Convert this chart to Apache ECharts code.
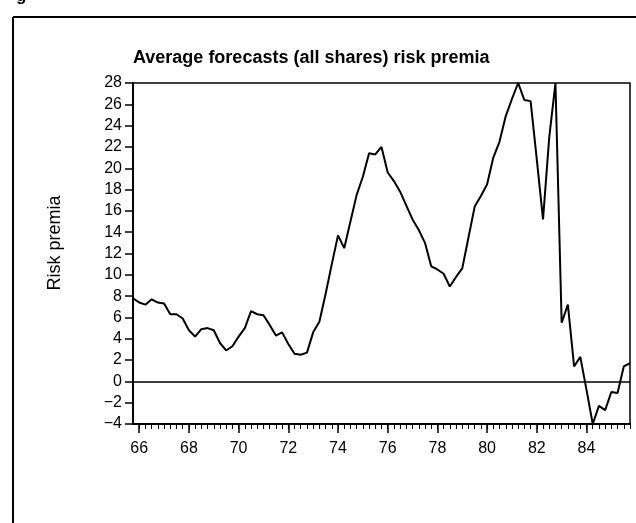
<!DOCTYPE html>
<html>
<head>
<meta charset="utf-8">
<script src="https://cdn.jsdelivr.net/npm/echarts@6/dist/echarts.min.js"></script>
<style>html,body{margin:0;padding:0;background:#fff;}#c{width:636px;height:523px;}</style>
</head>
<body>
<div id="c"></div>
<script>
// Quarterly periods, 1965 Q4 .. 1985 Q4 (decimal years, two-digit)
var quarters = [
  65.75,
  66.00,66.25,66.50,66.75, 67.00,67.25,67.50,67.75, 68.00,68.25,68.50,68.75,
  69.00,69.25,69.50,69.75, 70.00,70.25,70.50,70.75, 71.00,71.25,71.50,71.75,
  72.00,72.25,72.50,72.75, 73.00,73.25,73.50,73.75, 74.00,74.25,74.50,74.75,
  75.00,75.25,75.50,75.75, 76.00,76.25,76.50,76.75, 77.00,77.25,77.50,77.75,
  78.00,78.25,78.50,78.75, 79.00,79.25,79.50,79.75, 80.00,80.25,80.50,80.75,
  81.00,81.25,81.50,81.75, 82.00,82.25,82.50,82.75, 83.00,83.25,83.50,83.75,
  84.00,84.25,84.50,84.75, 85.00,85.25,85.50,85.75
];
// Average forecasts (all shares) risk premia
var riskPremia = [
  7.8,
  7.4,7.2,7.7,7.4, 7.3,6.3,6.3,5.9, 4.8,4.2,4.9,5.0,
  4.8,3.6,2.9,3.3, 4.2,5.0,6.6,6.3, 6.2,5.3,4.3,4.6,
  3.5,2.6,2.5,2.7, 4.6,5.6,8.2,11.0, 13.7,12.5,15.0,17.5,
  19.2,21.4,21.3,22.0, 19.6,18.8,17.8,16.5, 15.2,14.2,13.0,10.8,
  10.5,10.1,8.9,9.8, 10.6,13.5,16.4,17.4, 18.5,21.0,22.5,24.9,
  26.5,28,26.4,26.3, 20.8,15.2,22.9,28, 5.5,7.2,1.4,2.3,
  -0.8,-4,-2.3,-2.7, -1.0,-1.1,1.4,1.7
];
var xLabels = [66,68,70,72,74,76,78,80,82,84];
var minorTickValues = [];
for (var q = 66; q <= 85.75; q += 0.25) minorTickValues.push(q);

var data = quarters.map(function(t,i){ return [t, riskPremia[i]]; });

var FONT = 'Liberation Sans';
var chart = echarts.init(document.getElementById('c'), null, {renderer:'canvas'});
chart.setOption({
  animation:false,
  backgroundColor:'#fff',
  textStyle:{fontFamily:FONT,color:'#000'},
  title:{
    text:'Average forecasts (all shares) risk premia',
    left:128, top:44,
    textStyle:{fontFamily:FONT,fontSize:18,fontWeight:'bold',color:'#000'}
  },
  grid:{left:133,right:6,top:83,bottom:99,show:true,borderColor:'#000',borderWidth:1.5,backgroundColor:'transparent'},
  xAxis:[{
    type:'value', min:65.75, max:85.75,
    axisLine:{show:true,onZero:false,lineStyle:{color:'#000',width:2}},
    axisTick:{show:true,length:9,customValues:xLabels,lineStyle:{color:'#000',width:1.5}},
    axisLabel:{show:true,customValues:xLabels,color:'#000',fontSize:16,fontFamily:FONT,margin:17,
      formatter:function(v){return String(Math.round(v));}},
    splitLine:{show:false}
  },{
    type:'value', min:65.75, max:85.75, position:'bottom',
    axisLine:{show:false,onZero:false},
    axisTick:{show:true,length:5,customValues:minorTickValues,lineStyle:{color:'#000',width:1}},
    axisLabel:{show:false},
    splitLine:{show:false}
  }],
  yAxis:{
    type:'value', min:-4, max:28, interval:2,
    axisLine:{show:true,onZero:false,lineStyle:{color:'#000',width:2}},
    axisTick:{show:true,length:8,lineStyle:{color:'#000',width:1.5}},
    axisLabel:{color:'#000',fontSize:16,fontFamily:FONT,margin:11,
      formatter:function(v){return String(v).replace('-','\u2212');}},
    splitLine:{show:false}
  },
  series:[{
    type:'line', xAxisIndex:0, data:data, showSymbol:false, symbol:'none',
    lineStyle:{color:'#000',width:2}, clip:true,
    markLine:{silent:true,symbol:'none',label:{show:false},
      lineStyle:{color:'#000',width:1.5,type:'solid'},
      data:[{yAxis:0}]}
  }],
  graphic:[
    {type:'line',shape:{x1:13,y1:17,x2:13,y2:523},style:{stroke:'#000',lineWidth:2}},
    {type:'line',shape:{x1:13,y1:17,x2:636,y2:17},style:{stroke:'#000',lineWidth:2}},
    {type:'text',x:16,y:-12,style:{text:'g',font:'bold 17px "Liberation Sans"',fill:'#000'}},
    {type:'text',x:55,y:243,rotation:Math.PI/2,
      style:{text:'Risk premia',font:'18px "Liberation Sans"',fill:'#000',align:'center',verticalAlign:'middle'}}
  ]
});
</script>
</body>
</html>
